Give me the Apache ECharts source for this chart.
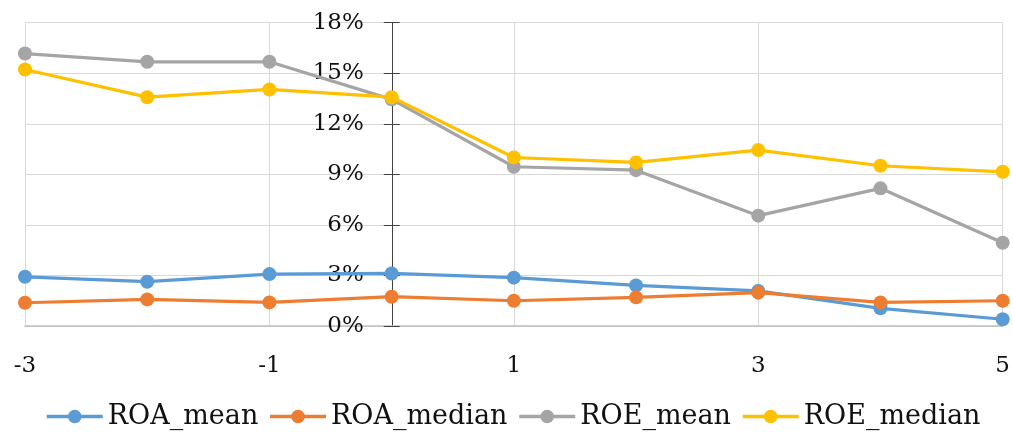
<!DOCTYPE html>
<html>
<head>
<meta charset="utf-8">
<script src="https://cdn.jsdelivr.net/npm/echarts@6/dist/echarts.min.js"></script>
<style>
  html, body { margin: 0; padding: 0; background: #fff; }
  #chart { width: 1013px; height: 434px; }
</style>
</head>
<body>
<div id="chart"></div>
<script>
// Event-time window around year 0
const years = ['-3', '-2', '-1', '0', '1', '2', '3', '4', '5'];

// Profitability ratios in percent
const roaMean   = [2.92, 2.63, 3.08, 3.12, 2.87, 2.41, 2.08, 1.05, 0.40];
const roaMedian = [1.38, 1.58, 1.40, 1.74, 1.50, 1.70, 1.98, 1.40, 1.50];
const roeMean   = [16.17, 15.68, 15.68, 13.45, 9.45, 9.25, 6.55, 8.17, 4.94];
const roeMedian = [15.22, 13.58, 14.04, 13.58, 10.0, 9.71, 10.44, 9.51, 9.15];

const seriesNames  = ['ROA_mean', 'ROA_median', 'ROE_mean', 'ROE_median'];
const seriesColors = ['#5B9BD5', '#ED7D31', '#A5A5A5', '#FFC000'];
const seriesData   = [roaMean, roaMedian, roeMean, roeMedian];

const yMin = 0, yMax = 18, yStep = 3;

const FONT = '"DejaVu Serif", "Liberation Serif", serif';

const gridLeft = 25, gridRight = 10;
const chartWidth = 1013;
const plotWidth = chartWidth - gridLeft - gridRight;
const unit = plotWidth / (years.length - 1);
// the value axis crosses the category axis at year 0
const yAxisOffset = -unit * years.indexOf('0');

const chart = echarts.init(document.getElementById('chart'), null, { renderer: 'canvas' });

chart.setOption({
  animation: false,
  backgroundColor: '#ffffff',
  grid: { left: gridLeft, right: gridRight, top: 22.7, bottom: 108, containLabel: false },
  legend: {
    bottom: -1,
    left: 40,
    itemWidth: 56,
    itemHeight: 17,
    itemGap: 10,
    lineStyle: { width: 3.5 },
    textStyle: { fontFamily: FONT, fontSize: 27, color: '#111' },
    data: seriesNames
  },
  xAxis: {
    type: 'category',
    data: years,
    boundaryGap: false,
    axisLine: { onZero: true, lineStyle: { color: '#bfbfbf', width: 1.5 } },
    axisTick: { show: false },
    axisLabel: { interval: 1, margin: 29, fontFamily: FONT, fontSize: 23, color: '#111' },
    splitLine: { show: true, interval: 1, lineStyle: { color: '#d9d9d9', width: 1 } }
  },
  yAxis: [
    {
      type: 'value',
      min: yMin, max: yMax, interval: yStep,
      position: 'left',
      offset: yAxisOffset,
      axisLine: { show: true, lineStyle: { color: '#404040', width: 1 } },
      axisTick: { show: true, length: 8, lineStyle: { color: '#404040', width: 1 } },
      axisLabel: { margin: 28, formatter: '{value}%', fontFamily: FONT, fontSize: 23, color: '#111' },
      splitLine: { show: true, lineStyle: { color: '#d9d9d9', width: 1 } }
    },
    {
      type: 'value',
      min: yMin, max: yMax, interval: yStep,
      position: 'left',
      offset: yAxisOffset,
      axisLine: { show: false },
      axisTick: { show: true, inside: true, length: 8, lineStyle: { color: '#404040', width: 1 } },
      axisLabel: { show: false },
      splitLine: { show: false }
    }
  ],
  series: seriesNames.map((name, i) => ({
    name: name,
    type: 'line',
    yAxisIndex: 0,
    data: seriesData[i],
    symbol: 'circle',
    symbolSize: 14,
    showSymbol: true,
    color: seriesColors[i],
    lineStyle: { width: 3.2, color: seriesColors[i] },
    itemStyle: { color: seriesColors[i] },
    z: 2 + i
  }))
});
</script>
</body>
</html>
